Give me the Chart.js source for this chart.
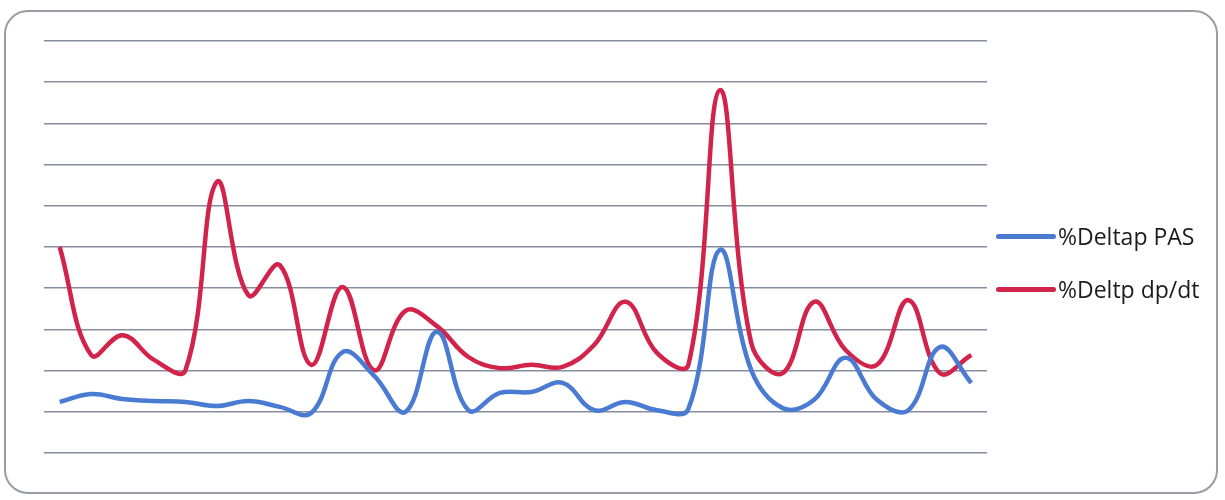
<!DOCTYPE html>
<html>
<head>
<meta charset="utf-8">
<script src="https://cdn.jsdelivr.net/npm/chart.js@4.4.1/dist/chart.umd.min.js"></script>
<style>
  html,body{margin:0;padding:0;background:#fff;}
  #wrap{position:relative;width:1225px;height:500px;overflow:hidden;background:#fff;}
  #frame{position:absolute;left:4px;top:10px;width:1214px;height:484px;border:2px solid #9a9ca5;border-radius:24px;box-sizing:border-box;}
  #c{position:absolute;left:0;top:0;}
  .leg{position:absolute;font-family:"Open Sans",sans-serif;font-size:23px;color:#1c1c1c;white-space:nowrap;display:flex;align-items:center;}
  .leg span.ln{display:inline-block;width:60px;height:5px;border-radius:3px;margin-right:2px;}
</style>
</head>
<body>
<div id="wrap">
  <div id="frame"></div>
  <canvas id="c" width="1225" height="500"></canvas>
  <div class="leg" id="leg0" style="left:996px;top:220px;"><span class="ln" style="background:#4a7bd2"></span><span id="t0"></span></div>
  <div class="leg" id="leg1" style="left:996px;top:273px;"><span class="ln" style="background:#d2244b"></span><span id="t1"></span></div>
</div>
<script>
const categories = Array.from({length: 30}, (_, i) => String(i + 1));
const seriesNames = ["%Deltap PAS", "%Deltp dp/dt"];
const pasValues = [1.24, 1.43, 1.31, 1.26, 1.24, 1.14, 1.26, 1.12, 0.97, 2.45,
                   1.88, 1.00, 2.94, 1.04, 1.46, 1.48, 1.70, 1.04, 1.24, 1.04,
                   1.07, 4.93, 2.01, 1.09, 1.29, 2.31, 1.29, 1.04, 2.57, 1.70];
const dpdtValues = [5.00, 2.38, 2.86, 2.26, 2.01, 6.58, 3.83, 4.56, 2.14, 4.03,
                    2.01, 3.45, 3.08, 2.33, 2.06, 2.14, 2.09, 2.62, 3.67, 2.43,
                    2.14, 8.81, 2.67, 1.94, 3.67, 2.50, 2.14, 3.71, 1.94, 2.38];
const yTicks = [0,1,2,3,4,5,6,7,8,9,10];

document.getElementById('t0').textContent = seriesNames[0];
document.getElementById('t1').textContent = seriesNames[1];

new Chart(document.getElementById('c'), {
  type: 'line',
  data: {
    labels: categories,
    datasets: [
      {label: seriesNames[0], data: pasValues, borderColor: '#4a7bd2', borderWidth: 4.5, pointRadius: 0, tension: 0.4, fill: false},
      {label: seriesNames[1], data: dpdtValues, borderColor: '#d2244b', borderWidth: 4.5, pointRadius: 0, tension: 0.4, fill: false}
    ]
  },
  options: {
    responsive: false,
    animation: false,
    layout: {padding: {left: 44, right: 238, top: 41, bottom: 47}},
    plugins: {legend: {display: false}, tooltip: {enabled: false}},
    scales: {
      x: {display: false, offset: true},
      y: {
        min: yTicks[0], max: yTicks[yTicks.length-1],
        afterBuildTicks: (s) => { s.ticks = yTicks.map(v => ({value: v})); },
        ticks: {display: false},
        border: {display: false},
        grid: {color: '#878ba0', lineWidth: 1.5, drawTicks: false}
      }
    }
  }
});
</script>
</body>
</html>
